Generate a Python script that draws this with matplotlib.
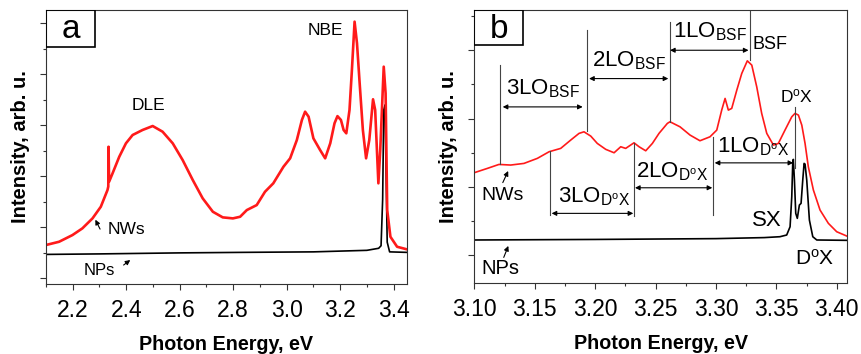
import numpy as np
import matplotlib
matplotlib.use("Agg")
import matplotlib.pyplot as plt
from matplotlib.patches import Rectangle
from matplotlib.ticker import MultipleLocator, NullFormatter, FormatStrFormatter

plt.rcParams['font.family'] = ['Liberation Sans', 'DejaVu Sans']
plt.rcParams['mathtext.fontset'] = 'custom'
plt.rcParams['mathtext.rm'] = 'Liberation Sans'
plt.rcParams['mathtext.it'] = 'Liberation Sans:italic'
plt.rcParams['mathtext.bf'] = 'Liberation Sans:bold'

# ---- panel a: wide range PL (eV, arb. u.) ----
a_nw_e = [2.099, 2.149, 2.199, 2.236, 2.274, 2.305, 2.330, 2.333, 2.334, 2.336, 2.349,
          2.374, 2.399, 2.424, 2.461, 2.499, 2.536, 2.574, 2.611, 2.649, 2.686, 2.724,
          2.761, 2.799, 2.826, 2.851, 2.888, 2.919, 2.950, 2.988, 3.013, 3.038, 3.057,
          3.069, 3.082, 3.100, 3.125, 3.144, 3.163, 3.179, 3.190, 3.203, 3.213, 3.223,
          3.235, 3.244, 3.254, 3.263, 3.273, 3.285, 3.297, 3.309, 3.323, 3.331, 3.343,
          3.350, 3.363, 3.370, 3.376, 3.388, 3.413, 3.450]
a_nw_i = [0.653, 0.718, 0.849, 0.980, 1.176, 1.404, 1.731, 1.80, 2.58, 1.894, 2.059,
          2.384, 2.647, 2.810, 2.908, 2.986, 2.875, 2.647, 2.320, 1.927, 1.569, 1.306,
          1.196, 1.176, 1.208, 1.339, 1.437, 1.698, 1.863, 2.188, 2.353, 2.710, 3.104,
          3.267, 3.169, 2.745, 2.516, 2.353, 2.647, 3.040, 3.180, 3.104, 2.908, 2.843,
          3.300, 4.084, 5.031, 4.608, 3.823, 2.908, 2.353, 2.712, 3.510, 3.300, 1.863,
          2.516, 4.149, 3.627, 1.339, 0.816, 0.620, 0.569]

a_np_e = [2.10, 2.30, 2.60, 2.83, 3.10, 3.30, 3.344, 3.353, 3.359, 3.363, 3.368,
          3.372, 3.376, 3.385, 3.45]
a_np_i = [0.47, 0.48, 0.50, 0.51, 0.52, 0.55, 0.59, 0.64, 1.55, 3.30, 3.40,
          2.00, 0.71, 0.52, 0.51]

# ---- panel b: near band edge ----
b_nw_e = [3.0998, 3.1108, 3.1204, 3.1301, 3.1411, 3.1522, 3.1619, 3.1715, 3.1798, 3.1867,
          3.1908, 3.1964, 3.2018, 3.2088, 3.2157, 3.2212, 3.2253, 3.2322, 3.2364, 3.2419,
          3.2474, 3.2529, 3.2598, 3.2620, 3.2703, 3.2786, 3.2868, 3.2951, 3.3007, 3.3048,
          3.3076, 3.3103, 3.3131, 3.3173, 3.3214, 3.3260, 3.3297, 3.3338, 3.3379, 3.3421,
          3.3476, 3.3517, 3.3572, 3.3628, 3.3655, 3.3683, 3.3711, 3.3738, 3.3765, 3.3807,
          3.3862, 3.3931, 3.4000, 3.4083]
b_nw_i = [1.205, 1.269, 1.327, 1.318, 1.342, 1.416, 1.513, 1.562, 1.684, 1.782,
          1.805, 1.742, 1.635, 1.548, 1.498, 1.586, 1.562, 1.644, 1.586, 1.527,
          1.635, 1.782, 1.928, 1.952, 1.878, 1.757, 1.674, 1.732, 1.830, 2.123,
          2.294, 2.123, 2.148, 2.416, 2.660, 2.845, 2.782, 2.464, 2.075, 1.782,
          1.611, 1.635, 1.830, 2.025, 2.075, 2.050, 1.903, 1.635, 1.293, 0.952,
          0.659, 0.464, 0.341, 0.278]

b_np_e = [3.100, 3.200, 3.300, 3.340, 3.353, 3.3586, 3.3614, 3.3628, 3.3636, 3.3641,
          3.3650, 3.3661, 3.3674, 3.3691, 3.3705, 3.3719, 3.3730, 3.3738, 3.3752, 3.3774,
          3.3802, 3.3835, 3.4083]
b_np_i = [0.220, 0.228, 0.240, 0.255, 0.268, 0.293, 0.414, 0.854, 1.342, 1.401,
          1.098, 0.610, 0.537, 0.732, 0.757, 1.098, 1.342, 1.332, 1.098, 0.512,
          0.268, 0.220, 0.215]

red = '#ff1a1a'


def style_axis(ax, ylab_x):
    for s in ax.spines.values():
        s.set_linewidth(0.8)
        s.set_color('#333333')
    ax.tick_params(which='both', direction='out', top=False, right=False,
                   labelsize=16.5, color='#333333', width=0.8, pad=6.5)
    ax.tick_params(which='major', length=4.5)
    ax.tick_params(which='minor', length=2.5)
    ax.yaxis.set_major_formatter(NullFormatter())
    ax.set_xlabel('Photon Energy, eV', fontsize=14.2, fontweight='bold', labelpad=9)
    ax.set_ylabel('Intensity, arb. u.', fontsize=14.5, fontweight='bold')
    ax.yaxis.set_label_coords(ylab_x, 0.5)


def panel_box(ax, label, w, h):
    ax.add_patch(Rectangle((0.0, 1 - h), w, h, transform=ax.transAxes,
                           fill=False, lw=1.2, ec='black', zorder=5))
    ax.text(w / 2, 1 - h / 2 - 0.005, label, transform=ax.transAxes, ha='center',
            va='center', fontsize=24)


fig = plt.figure(figsize=(8.61, 3.54), dpi=100)
ax1 = fig.add_axes([0.0534, 0.1977, 0.4193, 0.7741])
ax2 = fig.add_axes([0.5509, 0.2006, 0.4328, 0.7712])

# panel a
ax1.plot(a_np_e, a_np_i, color='black', lw=1.2)
ax1.plot(a_nw_e, a_nw_i, color=red, lw=1.9)
ax1.set_xlim(2.1, 3.45)
ax1.set_ylim(-0.11, 5.26)
ax1.xaxis.set_major_locator(MultipleLocator(0.2))
ax1.xaxis.set_minor_locator(MultipleLocator(0.1))
ax1.yaxis.set_major_locator(MultipleLocator(1))
ax1.yaxis.set_minor_locator(MultipleLocator(0.5))
style_axis(ax1, -0.0443)
panel_box(ax1, 'a', 0.136, 0.135)
ax1.text(2.482, 3.388, 'DLE', fontsize=12.5, ha='center', va='center')
ax1.text(3.144, 4.849, 'NBE', fontsize=12.5, ha='center', va='center')
ax1.text(2.401, 0.95, 'NWs', fontsize=12.5, ha='center', va='center')
ax1.text(2.299, 0.164, 'NPs', fontsize=12, ha='center', va='center')
arrow = dict(arrowstyle='-|>', color='black', lw=0.8, mutation_scale=7)
ax1.annotate('', xy=(2.280, 1.199), xytext=(2.307, 0.917), arrowprops=arrow)
ax1.annotate('', xy=(2.4235, 0.393), xytext=(2.382, 0.229), arrowprops=arrow)

# panel b
ax2.plot(b_np_e, b_np_i, color='black', lw=1.2)
ax2.plot(b_nw_e, b_nw_i, color=red, lw=1.2)
ax2.set_xlim(3.10, 3.4085)
ax2.set_ylim(-0.41, 3.59)
ax2.xaxis.set_major_locator(MultipleLocator(0.05))
ax2.xaxis.set_minor_locator(MultipleLocator(0.025))
ax2.xaxis.set_major_formatter(FormatStrFormatter('%.2f'))
ax2.yaxis.set_major_locator(MultipleLocator(1))
ax2.yaxis.set_minor_locator(MultipleLocator(0.5))
style_axis(ax2, -0.0429)
panel_box(ax2, 'b', 0.131, 0.13)

# phonon replica guides
vlines = [(3.121, 1.33, 2.78), (3.193, 1.81, 3.29), (3.262, 1.95, 3.41),
          (3.328, 2.85, 3.59), (3.163, 0.59, 1.52), (3.232, 0.57, 1.64),
          (3.298, 0.59, 1.73), (3.3654, 1.27, 2.17)]
for x, y0, y1 in vlines:
    ax2.plot([x, x], [y0, y1], color='#444444', lw=0.8)

spans = [(3.1235, 3.1897, 2.17), (3.195, 3.2606, 2.585), (3.262, 3.327, 3.0),
         (3.299, 3.364, 1.35), (3.233, 3.297, 0.985), (3.164, 3.2316, 0.61)]
darrow = dict(arrowstyle='<|-|>', color='black', lw=0.8, mutation_scale=7,
              shrinkA=0, shrinkB=0)
for x0, x1, y in spans:
    ax2.annotate('', xy=(x1, y), xytext=(x0, y), arrowprops=darrow)

labels_b = [(3.1566, 2.44, r'3LO$_\mathrm{BSF}$', 16),
            (3.228, 2.85, r'2LO$_\mathrm{BSF}$', 16),
            (3.295, 3.27, r'1LO$_\mathrm{BSF}$', 16),
            (3.345, 3.08, 'BSF', 13),
            (3.367, 2.33, r'D$^\mathrm{o}$X', 12.5),
            (3.331, 1.585, r'1LO$_\mathrm{D^oX}$', 16),
            (3.264, 1.22, r'2LO$_\mathrm{D^oX}$', 16),
            (3.199, 0.854, r'3LO$_\mathrm{D^oX}$', 16),
            (3.342, 0.512, 'SX', 16),
            (3.382, -0.05, r'D$^\mathrm{o}$X', 15),
            (3.1235, 0.878, 'NWs', 14),
            (3.1218, -0.195, 'NPs', 14.5)]
for x, y, s, fs in labels_b:
    ax2.text(x, y, s, fontsize=fs, ha='center', va='center')
ax2.annotate('', xy=(3.129, 1.268), xytext=(3.1226, 1.024), arrowprops=arrow)
ax2.annotate('', xy=(3.129, 0.171), xytext=(3.1235, -0.073), arrowprops=arrow)

fig.savefig('out.png', dpi=100)
